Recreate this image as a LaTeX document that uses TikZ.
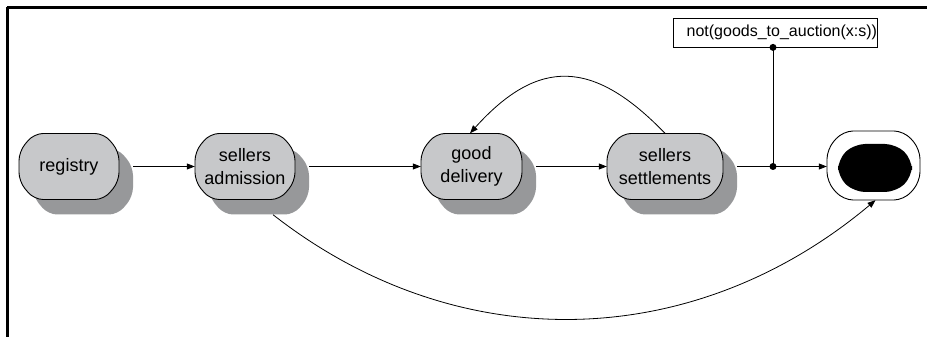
\documentclass[tikz,border=0pt]{standalone}
\usepackage{fontspec}
\setmainfont{Liberation Sans}
\usetikzlibrary{arrows.meta}
\definecolor{stategrey}{HTML}{C7C8CA}
\definecolor{shadegrey}{HTML}{97989A}
% clipped-corner outline: centre x, centre y, half width, half height, corner cut x, corner cut y
\newcommand\octo[6]{(#1-#3+#5,#2+#4) -- (#1+#3-#5,#2+#4) -- (#1+#3,#2+#4-#6)
  -- (#1+#3,#2-#4+#6) -- (#1+#3-#5,#2-#4) -- (#1-#3+#5,#2-#4)
  -- (#1-#3,#2-#4+#6) -- (#1-#3,#2+#4-#6) -- cycle}
% a state: shadow, outline, and a named node for the label
\newcommand\statebox[5]{% name, centre x, centre y, width, text
  \fill[shade] \octo{#2+14}{#3-15}{#4/2}{33}{15}{18};
  \draw[outline] \octo{#2}{#3}{#4/2}{33}{15}{18};
  \node[statetext,minimum width=#4pt] (#1) at (#2,#3) {#5};}
\begin{document}
\begin{tikzpicture}[x=1pt,y=1pt,
  shade/.style={fill=shadegrey,rounded corners=9pt},
  outline/.style={draw=black,line width=0.9pt,fill=stategrey,rounded corners=9pt},
  statetext/.style={inner sep=0pt,minimum height=66pt,align=center,
    font=\fontsize{18}{23}\selectfont},
  arr/.style={line width=0.8pt,-{Triangle[length=8pt,width=6pt]}},
  wire/.style={line width=0.8pt},
  tap/.style={fill=black}]
\useasboundingbox (0,0) rectangle (927,337);

% frame
\draw[line width=3pt] (7,329) -- (927,329);
\draw[line width=2.5pt] (7.5,330) -- (7.5,0);

% states
\statebox{reg}{69}{170.5}{100}{registry}
\statebox{adm}{245}{170.5}{100}{sellers\\admission}
\statebox{del}{471.5}{170.5}{101}{good\\delivery}
\statebox{set}{665}{170.5}{116}{sellers\\settlements}

% final state
\draw[line width=0.9pt,fill=white,rounded corners=10pt] \octo{873.5}{171.5}{46.5}{34.5}{16}{18};
\fill[black,rounded corners=11pt] \octo{875}{169}{37}{24}{16}{15};
\node[inner sep=0pt,minimum width=93pt,minimum height=69pt] (fin) at (873.5,171.5) {};

% guard
\node[draw,line width=0.8pt,text width=204pt,minimum height=29pt,inner sep=0pt,
  align=right,font=\fontsize{16}{19}\selectfont] (lbl) at (775,304.5)
  {not(goods\_to\_auction(x:s))};

\coordinate (j) at (773,170.5);
\coordinate (ltap) at (lbl.south -| j);

% transitions
\draw[arr] ([xshift=14pt]reg.east) -- (adm.west);
\draw[arr] ([xshift=14pt]adm.east) -- (del.west);
\draw[arr] ([xshift=14pt]del.east) -- (set.west);
\draw[wire] ([xshift=14pt]set.east) -- (j);
\draw[arr] (j) -- (j -| fin.west);
\draw[wire] (ltap) -- (j);
\fill[tap] (j) circle (3.5pt);
\fill[tap] (ltap) circle (3.5pt);

\draw[arr] (set.north) to[out=134,in=48,looseness=1.35] ([xshift=-1.5pt]del.north);
\draw[arr] ([xshift=28pt,yshift=-15pt]adm.south) to[out=-38,in=-140] ([xshift=2pt]fin.south);
\end{tikzpicture}
\end{document}
